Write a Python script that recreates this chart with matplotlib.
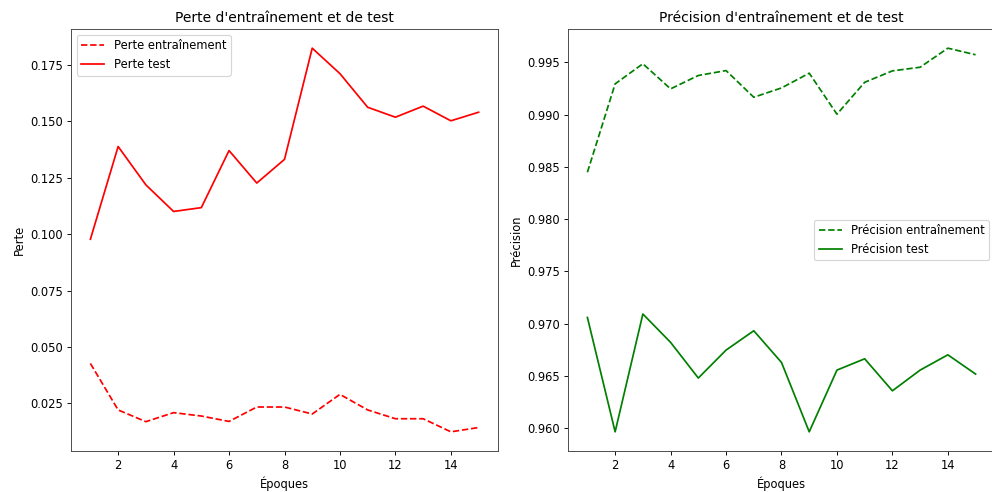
import matplotlib
matplotlib.use("Agg")
import matplotlib.pyplot as plt

epochs = list(range(1, 16))

train_loss = [0.0427, 0.0221, 0.0169, 0.0209, 0.0194, 0.0170, 0.0234, 0.0234,
              0.0203, 0.0290, 0.0221, 0.0182, 0.0182, 0.0124, 0.0143]
test_loss = [0.0978, 0.1389, 0.1219, 0.1101, 0.1118, 0.1371, 0.1227, 0.1332,
             0.1825, 0.1712, 0.1563, 0.1519, 0.1568, 0.1503, 0.1541]

train_acc = [0.98448, 0.99293, 0.99485, 0.99245, 0.99373, 0.99420, 0.99165, 0.99254,
             0.99395, 0.99003, 0.99308, 0.99417, 0.99452, 0.99634, 0.99571]
test_acc = [0.97060, 0.95967, 0.97093, 0.96822, 0.96481, 0.96748, 0.96933, 0.96630,
            0.95967, 0.96557, 0.96665, 0.96359, 0.96557, 0.96703, 0.96519]

W, H = 992, 492
DPI = 83
fig = plt.figure(figsize=(W / DPI, H / DPI), dpi=DPI)

ax1 = fig.add_axes([71 / W, (H - 451) / H, 427 / W, 422 / H])
ax2 = fig.add_axes([568 / W, (H - 451) / H, 427 / W, 422 / H])

ax1.plot(epochs, train_loss, "r--", label="Perte entraînement")
ax1.plot(epochs, test_loss, "r-", label="Perte test")
ax1.set_title("Perte d'entraînement et de test")
ax1.set_xlabel("Époques")
ax1.set_ylabel("Perte")
ax1.legend(loc="upper left")

ax2.plot(epochs, train_acc, "g--", label="Précision entraînement")
ax2.plot(epochs, test_acc, "g-", label="Précision test")
ax2.set_title("Précision d'entraînement et de test")
ax2.set_xlabel("Époques")
ax2.set_ylabel("Précision")
ax2.legend(loc="center right")

for ax in (ax1, ax2):
    for s in ax.spines.values():
        s.set_color("#444444")

fig.savefig("out.png", dpi=DPI)
